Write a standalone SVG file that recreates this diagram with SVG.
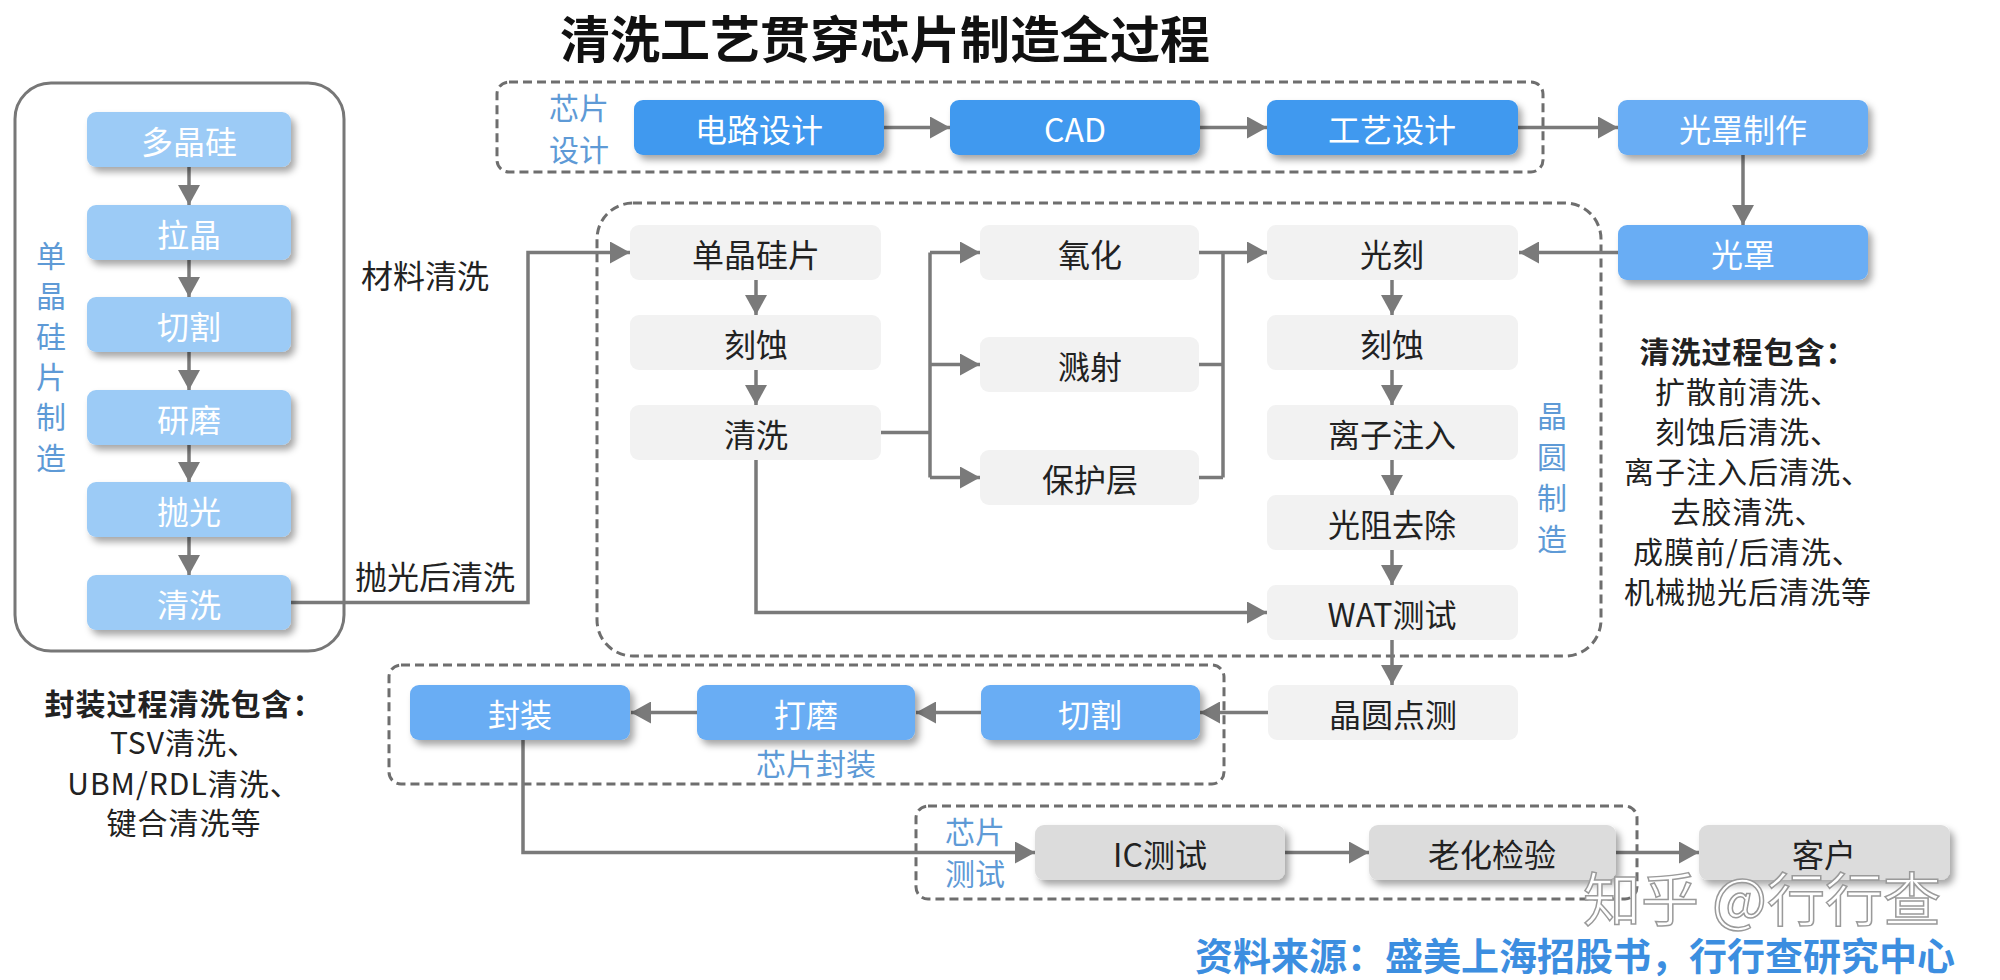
<svg xmlns="http://www.w3.org/2000/svg" width="2000" height="980" viewBox="0 0 2000 980">
<defs>
<filter id="sh" x="-10%" y="-20%" width="125%" height="160%">
<feDropShadow dx="4" dy="5" stdDeviation="3.5" flood-color="#000" flood-opacity="0.35"/>
</filter>
<marker id="ah" markerUnits="userSpaceOnUse" markerWidth="22" markerHeight="22" refX="20" refY="11" orient="auto">
<path d="M0,0 L20,11 L0,22 z" fill="#7a7a7a"/>
</marker>
<style>
text{font-family:"Noto Sans CJK SC","Noto Sans",sans-serif;}
.t{font-size:32px;text-anchor:middle;dominant-baseline:central;}
.w{fill:#ffffff;}
.k{fill:#222222;}
.lbl{font-size:30px;fill:#5e9ad6;text-anchor:middle;dominant-baseline:central;}
.b1{fill:#4199ef;filter:url(#sh);}
.b2{fill:#69adf4;filter:url(#sh);}
.b3{fill:#9ccbf6;filter:url(#sh);}
.g1{fill:#f2f2f2;}
.g2{fill:#dcdcdc;filter:url(#sh);}
.dash{fill:none;stroke:#6e6e6e;stroke-width:3;stroke-dasharray:9 5;}
.c{fill:none;stroke:#7a7a7a;stroke-width:3.5;}
.ca{fill:none;stroke:#7a7a7a;stroke-width:3.5;marker-end:url(#ah);}
.note{font-size:30px;letter-spacing:1px;fill:#222;text-anchor:middle;}
</style>
</defs>
<rect width="2000" height="980" fill="#ffffff"/>

<text x="885" y="36" style="font-size:50px;font-weight:bold;fill:#111;text-anchor:middle;dominant-baseline:central;">清洗工艺贯穿芯片制造全过程</text>

<!-- group frames -->
<g id="frames">
<rect x="15" y="83" width="329" height="568" rx="36" fill="none" stroke="#777" stroke-width="3"/>
<rect x="497" y="82" width="1046" height="90" rx="12" class="dash"/>
<rect x="597" y="203" width="1004" height="453" rx="36" class="dash"/>
<rect x="389" y="665" width="835" height="119" rx="12" class="dash"/>
<rect x="916" y="806" width="721" height="93" rx="12" class="dash"/>
</g>

<!-- group labels -->
<g id="group-labels">
<text class="lbl" x="51"><tspan x="51" y="254">单</tspan><tspan x="51" y="294">晶</tspan><tspan x="51" y="335">硅</tspan><tspan x="51" y="375">片</tspan><tspan x="51" y="415">制</tspan><tspan x="51" y="456">造</tspan></text>
<text class="lbl"><tspan x="579" y="106">芯片</tspan><tspan x="579" y="148">设计</tspan></text>
<text class="lbl"><tspan x="1552" y="414">晶</tspan><tspan x="1552" y="455">圆</tspan><tspan x="1552" y="496">制</tspan><tspan x="1552" y="537">造</tspan></text>
<text class="lbl" x="816" y="762">芯片封装</text>
<text class="lbl"><tspan x="975" y="830">芯片</tspan><tspan x="975" y="872">测试</tspan></text>
</g>

<!-- connectors -->
<g id="connectors">
<line class="ca" x1="189" y1="167" x2="189" y2="205"/>
<line class="ca" x1="189" y1="260" x2="189" y2="297"/>
<line class="ca" x1="189" y1="352" x2="189" y2="390"/>
<line class="ca" x1="189" y1="445" x2="189" y2="482"/>
<line class="ca" x1="189" y1="537" x2="189" y2="575"/>
<polyline class="ca" points="291,602.5 528,602.5 528,252.5 630,252.5"/>
<line class="ca" x1="884" y1="127.5" x2="950" y2="127.5"/>
<line class="ca" x1="1200" y1="127.5" x2="1267" y2="127.5"/>
<line class="ca" x1="1518" y1="127.5" x2="1618" y2="127.5"/>
<line class="ca" x1="1743" y1="155" x2="1743" y2="225"/>
<line class="ca" x1="1618" y1="252.5" x2="1519" y2="252.5"/>
<line class="ca" x1="756" y1="280" x2="756" y2="315"/>
<line class="ca" x1="756" y1="370" x2="756" y2="405"/>
<polyline class="c" points="881,432.5 930,432.5"/>
<line class="c" x1="930" y1="252.5" x2="930" y2="477.5"/>
<line class="ca" x1="930" y1="252.5" x2="980" y2="252.5"/>
<line class="ca" x1="930" y1="364.5" x2="980" y2="364.5"/>
<line class="ca" x1="930" y1="477.5" x2="980" y2="477.5"/>
<line class="ca" x1="1199" y1="252.5" x2="1267" y2="252.5"/>
<line class="c" x1="1199" y1="364.5" x2="1223" y2="364.5"/>
<line class="c" x1="1199" y1="477.5" x2="1223" y2="477.5"/>
<line class="c" x1="1223" y1="252.5" x2="1223" y2="477.5"/>
<line class="ca" x1="1392" y1="280" x2="1392" y2="315"/>
<line class="ca" x1="1392" y1="370" x2="1392" y2="405"/>
<line class="ca" x1="1392" y1="460" x2="1392" y2="495"/>
<line class="ca" x1="1392" y1="550" x2="1392" y2="585"/>
<polyline class="ca" points="756,460 756,612.5 1267,612.5"/>
<line class="ca" x1="1392" y1="640" x2="1392" y2="685"/>
<line class="ca" x1="1268" y1="712.5" x2="1200" y2="712.5"/>
<line class="ca" x1="981" y1="712.5" x2="916" y2="712.5"/>
<line class="ca" x1="697" y1="712.5" x2="631" y2="712.5"/>
<polyline class="ca" points="523,740 523,852.5 1035,852.5"/>
<line class="ca" x1="1285" y1="852.5" x2="1369" y2="852.5"/>
<line class="ca" x1="1616" y1="852.5" x2="1699" y2="852.5"/>
</g>

<text x="361" y="274" style="font-size:32px;fill:#222;dominant-baseline:central;">材料清洗</text>
<text x="355" y="575" style="font-size:32px;fill:#222;dominant-baseline:central;">抛光后清洗</text>

<!-- silicon wafer manufacturing -->
<g id="n-duojinggui"><rect class="b3" x="87" y="112" width="204" height="55" rx="9"/><text class="t w" x="189" y="139.5">多晶硅</text></g>
<g id="n-lajing"><rect class="b3" x="87" y="205" width="204" height="55" rx="9"/><text class="t w" x="189" y="232.5">拉晶</text></g>
<g id="n-qiege1"><rect class="b3" x="87" y="297" width="204" height="55" rx="9"/><text class="t w" x="189" y="324.5">切割</text></g>
<g id="n-yanmo"><rect class="b3" x="87" y="390" width="204" height="55" rx="9"/><text class="t w" x="189" y="417.5">研磨</text></g>
<g id="n-paoguang"><rect class="b3" x="87" y="482" width="204" height="55" rx="9"/><text class="t w" x="189" y="509.5">抛光</text></g>
<g id="n-qingxi1"><rect class="b3" x="87" y="575" width="204" height="55" rx="9"/><text class="t w" x="189" y="602.5">清洗</text></g>

<!-- chip design -->
<g id="n-dianlu"><rect class="b1" x="634" y="100" width="250" height="55" rx="9"/><text class="t w" x="759" y="127.5">电路设计</text></g>
<g id="n-cad"><rect class="b1" x="950" y="100" width="250" height="55" rx="9"/><text class="t w" x="1075" y="127.5">CAD</text></g>
<g id="n-gongyi"><rect class="b1" x="1267" y="100" width="251" height="55" rx="9"/><text class="t w" x="1392" y="127.5">工艺设计</text></g>
<g id="n-guangzhaozhizuo"><rect class="b2" x="1618" y="100" width="250" height="55" rx="9"/><text class="t w" x="1743" y="127.5">光罩制作</text></g>
<g id="n-guangzhao"><rect class="b2" x="1618" y="225" width="250" height="55" rx="9"/><text class="t w" x="1743" y="252.5">光罩</text></g>

<!-- wafer fab -->
<g id="n-danjingguipian"><rect class="g1" x="630" y="225" width="251" height="55" rx="9"/><text class="t k" x="756" y="252.5">单晶硅片</text></g>
<g id="n-keshi1"><rect class="g1" x="630" y="315" width="251" height="55" rx="9"/><text class="t k" x="756" y="342.5">刻蚀</text></g>
<g id="n-qingxi2"><rect class="g1" x="630" y="405" width="251" height="55" rx="9"/><text class="t k" x="756" y="432.5">清洗</text></g>
<g id="n-yanghua"><rect class="g1" x="980" y="225" width="219" height="55" rx="9"/><text class="t k" x="1090" y="252.5">氧化</text></g>
<g id="n-jianshe"><rect class="g1" x="980" y="337" width="219" height="55" rx="9"/><text class="t k" x="1090" y="364.5">溅射</text></g>
<g id="n-baohuceng"><rect class="g1" x="980" y="450" width="219" height="55" rx="9"/><text class="t k" x="1090" y="477.5">保护层</text></g>
<g id="n-guangke"><rect class="g1" x="1267" y="225" width="251" height="55" rx="9"/><text class="t k" x="1392" y="252.5">光刻</text></g>
<g id="n-keshi2"><rect class="g1" x="1267" y="315" width="251" height="55" rx="9"/><text class="t k" x="1392" y="342.5">刻蚀</text></g>
<g id="n-lizizhuru"><rect class="g1" x="1267" y="405" width="251" height="55" rx="9"/><text class="t k" x="1392" y="432.5">离子注入</text></g>
<g id="n-guangzuquchu"><rect class="g1" x="1267" y="495" width="251" height="55" rx="9"/><text class="t k" x="1392" y="522.5">光阻去除</text></g>
<g id="n-wat"><rect class="g1" x="1267" y="585" width="251" height="55" rx="9"/><text class="t k" x="1392" y="612.5">WAT测试</text></g>
<g id="n-jingyuandiance"><rect class="g1" x="1268" y="685" width="250" height="55" rx="9"/><text class="t k" x="1393" y="712.5">晶圆点测</text></g>

<!-- packaging -->
<g id="n-qiege2"><rect class="b2" x="981" y="685" width="219" height="55" rx="9"/><text class="t w" x="1090" y="712.5">切割</text></g>
<g id="n-damo"><rect class="b2" x="697" y="685" width="218" height="55" rx="9"/><text class="t w" x="806" y="712.5">打磨</text></g>
<g id="n-fengzhuang"><rect class="b2" x="410" y="685" width="220" height="55" rx="9"/><text class="t w" x="520" y="712.5">封装</text></g>

<!-- test -->
<g id="n-ic"><rect class="g2" x="1035" y="825" width="250" height="55" rx="9"/><text class="t k" x="1160" y="852.5">IC测试</text></g>
<g id="n-laohua"><rect class="g2" x="1369" y="825" width="247" height="55" rx="9"/><text class="t k" x="1492" y="852.5">老化检验</text></g>
<g id="n-kehu"><rect class="g2" x="1699" y="825" width="251" height="55" rx="9"/><text class="t k" x="1824" y="852.5">客户</text></g>

<!-- notes -->
<g id="note-right">
<text class="note" x="1748" y="363" style="font-weight:bold;">清洗过程包含：</text>
<text class="note" x="1748" y="403">扩散前清洗、</text>
<text class="note" x="1748" y="443">刻蚀后清洗、</text>
<text class="note" x="1748" y="483">离子注入后清洗、</text>
<text class="note" x="1748" y="523">去胶清洗、</text>
<text class="note" x="1748" y="563">成膜前/后清洗、</text>
<text class="note" x="1748" y="603">机械抛光后清洗等</text>
</g>
<g id="note-left">
<text class="note" x="184" y="715" style="font-weight:bold;">封装过程清洗包含：</text>
<text class="note" x="184" y="754">TSV清洗、</text>
<text class="note" x="184" y="795">UBM/RDL清洗、</text>
<text class="note" x="184" y="834">键合清洗等</text>
</g>

<text x="1762" y="921" style="font-size:58px;fill:#ffffff;stroke:#9a9a9a;stroke-width:1.5;text-anchor:middle;">知乎 @行行查</text>
<text x="1955" y="953" style="font-size:38px;font-weight:bold;fill:#3c8ee0;text-anchor:end;dominant-baseline:central;">资料来源：盛美上海招股书，行行查研究中心</text>
</svg>
